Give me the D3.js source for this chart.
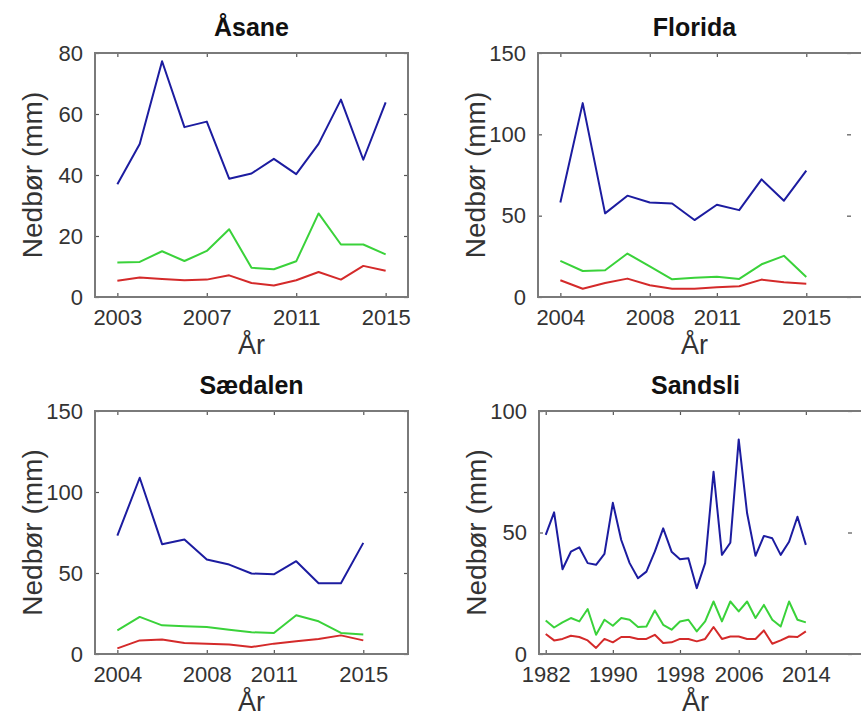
<!DOCTYPE html>
<html>
<head>
<meta charset="utf-8">
<script src="https://cdn.jsdelivr.net/npm/d3@7"></script>
<style>
  html, body { margin: 0; padding: 0; background: #fff; overflow: hidden; }
  svg { display: block; font-family: "Liberation Sans", Arial, Helvetica, sans-serif; }
</style>
</head>
<body>
<svg id="chart" width="861" height="721"></svg>
<script>
// Monthly precipitation (mm) per station: blue, green and red series
const asaneYears = [2003, 2004, 2005, 2006, 2007, 2008, 2009, 2010, 2011, 2012, 2013, 2014, 2015];
const asaneBlue  = [37.0, 50.2, 77.3, 55.7, 57.5, 38.8, 40.5, 45.3, 40.3, 50.2, 64.7, 45.0, 63.8];
const asaneGreen = [11.3, 11.5, 15.0, 11.8, 15.1, 22.2, 9.6, 9.1, 11.7, 27.4, 17.2, 17.2, 14.0];
const asaneRed   = [5.3, 6.4, 5.9, 5.5, 5.7, 7.1, 4.6, 3.8, 5.5, 8.2, 5.7, 10.2, 8.6];
const asaneXTicks = [2003, 2007, 2011, 2015];
const asaneYTicks = [0, 20, 40, 60, 80];

const floridaYears = [2004, 2005, 2006, 2007, 2008, 2009, 2010, 2011, 2012, 2013, 2014, 2015];
const floridaBlue  = [58.1, 119.2, 51.4, 62.3, 58.1, 57.5, 47.3, 56.7, 53.4, 72.3, 59.2, 77.7];
const floridaGreen = [22.2, 16.0, 16.4, 26.7, 18.9, 10.9, 11.9, 12.5, 11.1, 20.1, 25.3, 12.3];
const floridaRed   = [10.3, 5.1, 8.6, 11.3, 7.2, 5.1, 5.1, 6.0, 6.6, 10.7, 9.0, 8.2];
const floridaXTicks = [2004, 2008, 2011, 2015];
const floridaYTicks = [0, 50, 100, 150];

const saedalenYears = [2004, 2005, 2006, 2007, 2008, 2009, 2010, 2011, 2012, 2013, 2014, 2015];
const saedalenBlue  = [73.1, 108.8, 67.8, 70.7, 58.3, 55.2, 49.7, 49.2, 57.3, 43.7, 43.7, 68.6];
const saedalenGreen = [14.6, 22.9, 17.7, 17.1, 16.7, 15.0, 13.4, 13.0, 23.9, 20.2, 13.0, 12.0];
const saedalenRed   = [3.5, 8.4, 8.9, 6.8, 6.4, 5.8, 4.3, 6.4, 7.8, 9.3, 11.5, 8.4];
const saedalenXTicks = [2004, 2008, 2011, 2015];
const saedalenYTicks = [0, 50, 100, 150];

// Sandsli series is plotted by record number (one year lacks a record)
const sandsliYears = [1982, 1983, 1984, 1985, 1986, 1987, 1988, 1989, 1990, 1991, 1992, 1993,
                      1994, 1995, 1996, 1997, 1998, 1999, 2000, 2001, 2003, 2004, 2005, 2006,
                      2007, 2008, 2009, 2010, 2011, 2012, 2013, 2014];
const sandsliBlue  = [49.0, 58.3, 34.9, 42.1, 43.9, 37.4, 36.7, 41.2, 62.2, 46.9, 37.4, 31.2,
                      33.9, 42.1, 51.7, 42.1, 39.0, 39.4, 27.1, 37.4, 75.0, 40.8, 45.8, 88.3,
                      57.9, 40.4, 48.6, 47.6, 40.8, 46.2, 56.5, 44.9];
const sandsliGreen = [13.8, 10.9, 13.0, 14.8, 13.4, 18.5, 7.9, 14.1, 11.6, 14.8, 14.1, 11.1,
                      11.3, 17.9, 12.0, 10.0, 13.4, 14.1, 9.3, 13.4, 21.6, 13.4, 21.6, 17.5,
                      21.6, 14.8, 20.2, 14.1, 11.3, 21.6, 14.1, 13.0];
const sandsliRed   = [8.2, 5.6, 6.2, 7.5, 7.0, 5.6, 2.5, 6.2, 4.8, 7.0, 7.0, 6.2,
                      6.2, 7.9, 4.5, 4.8, 6.2, 6.2, 5.2, 6.2, 11.1, 6.2, 7.2, 7.2,
                      6.2, 6.2, 9.7, 4.2, 5.6, 7.2, 7.0, 9.3];
const sandsliXTicks = [1982, 1990, 1998, 2006, 2014];
const sandsliYTicks = [0, 50, 100];

const seriesColors = ["#1c1ca0", "#3ad23a", "#d42a2a"];

const panels = [
  { title: "Åsane", years: asaneYears, series: [asaneBlue, asaneGreen, asaneRed],
    xTicks: asaneXTicks, yTicks: asaneYTicks, xDomain: [2002, 2016], byIndex: false,
    left: 95, top: 53, bottom: 297, width: 313, frameWidth: 313 },
  { title: "Florida", years: floridaYears, series: [floridaBlue, floridaGreen, floridaRed],
    xTicks: floridaXTicks, yTicks: floridaYTicks, xDomain: [2003, 2017], byIndex: false,
    left: 538, top: 53, bottom: 297, width: 313, frameWidth: 340 },
  { title: "Sædalen", years: saedalenYears, series: [saedalenBlue, saedalenGreen, saedalenRed],
    xTicks: saedalenXTicks, yTicks: saedalenYTicks, xDomain: [2003, 2017], byIndex: false,
    left: 95, top: 411, bottom: 654, width: 313, frameWidth: 313 },
  { title: "Sandsli", years: sandsliYears, series: [sandsliBlue, sandsliGreen, sandsliRed],
    xTicks: sandsliXTicks, yTicks: sandsliYTicks, xDomain: [-0.8, 36.5], byIndex: true,
    left: 539, top: 411, bottom: 654, width: 313, frameWidth: 340 }
];

const svg = d3.select("#chart");
const axisColor = "#7a7a7a";
const labelColor = "#333";

panels.forEach(p => {
  const g = svg.append("g");
  const h = p.bottom - p.top;
  const x = d3.scaleLinear().domain(p.xDomain).range([p.left, p.left + p.width]);
  const y = d3.scaleLinear().domain([0, d3.max(p.yTicks)]).range([p.bottom, p.top]);
  const xOf = (d, i) => p.byIndex ? x(i) : x(p.years[i]);
  const tickPos = p.byIndex ? p.xTicks.map(t => p.years.indexOf(t)) : p.xTicks;
  const tickLabel = p.byIndex ? (i => String(p.years[i])) : (v => String(v));

  // data lines
  const line = d3.line().x((d, i) => xOf(d, i)).y(d => y(d));
  p.series.forEach((s, k) => {
    g.append("path").datum(s)
      .attr("d", line)
      .attr("fill", "none")
      .attr("stroke", seriesColors[k])
      .attr("stroke-width", 2)
      .attr("stroke-linejoin", "round");
  });

  // bottom axis with inward ticks
  const xAxis = d3.axisBottom(x).tickValues(tickPos).tickFormat(tickLabel)
    .tickSizeInner(-4).tickSizeOuter(0).tickPadding(12);
  const gx = g.append("g").attr("transform", `translate(0,${p.bottom})`).call(xAxis);
  // top mirrored ticks
  const gxt = g.append("g").attr("transform", `translate(0,${p.top})`)
    .call(d3.axisTop(x).tickValues(tickPos).tickFormat("").tickSizeInner(-4).tickSizeOuter(0));
  // left axis
  const yAxis = d3.axisLeft(y).tickValues(p.yTicks).tickFormat(d3.format("d"))
    .tickSizeInner(-4).tickSizeOuter(0).tickPadding(12);
  const gy = g.append("g").attr("transform", `translate(${p.left},0)`).call(yAxis);
  // right mirrored ticks
  const gyr = g.append("g").attr("transform", `translate(${p.left + p.width},0)`)
    .call(d3.axisRight(y).tickValues(p.yTicks).tickFormat("").tickSizeInner(-4).tickSizeOuter(0));

  [gx, gxt, gy, gyr].forEach(a => {
    a.select(".domain").remove();
    a.selectAll(".tick line").attr("stroke", "#555").attr("stroke-width", 1.2);
    a.selectAll(".tick text").attr("fill", labelColor)
      .style("font-size", "22px").style("font-family", "'Liberation Sans', Arial, sans-serif");
  });

  // frame
  g.append("rect")
    .attr("x", p.left).attr("y", p.top)
    .attr("width", p.frameWidth).attr("height", h)
    .attr("fill", "none").attr("stroke", axisColor).attr("stroke-width", 2);

  const cx = p.left + p.width / 2;
  // title
  g.append("text").attr("x", cx).attr("y", p.top - 17)
    .attr("text-anchor", "middle").attr("font-weight", "bold")
    .attr("font-size", 25).attr("fill", "#111").text(p.title);
  // x label
  g.append("text").attr("x", cx).attr("y", p.bottom + 57)
    .attr("text-anchor", "middle").attr("font-size", 27).attr("fill", labelColor).text("År");
  // y label
  g.append("text")
    .attr("transform", `translate(${p.left - 53},${(p.top + p.bottom) / 2}) rotate(-90)`)
    .attr("text-anchor", "middle").attr("font-size", 28).attr("fill", labelColor)
    .text("Nedbør (mm)");
});
</script>
</body>
</html>
